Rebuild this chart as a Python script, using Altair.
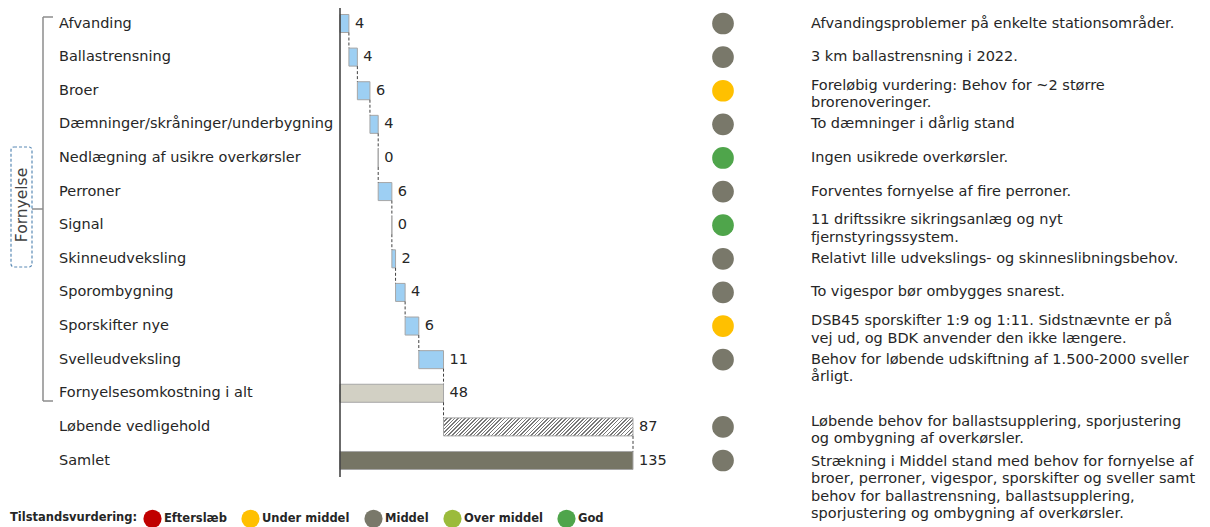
import altair as alt
import pandas as pd

FONT = "DejaVu Sans"
TXT = "#262626"

# ---------------- data ----------------
categories = [
    "Afvanding", "Ballastrensning", "Broer", "Dæmninger/skråninger/underbygning",
    "Nedlægning af usikre overkørsler", "Perroner", "Signal", "Skinneudveksling",
    "Sporombygning", "Sporskifter nye", "Svelleudveksling",
    "Fornyelsesomkostning i alt", "Løbende vedligehold", "Samlet",
]
renewal_values = [4.1, 3.9, 5.8, 3.8, 0.0, 6.3, 0.0, 1.7, 4.4, 6.3, 11.4]
maintenance_value = 87.3
status = ["Middel", "Middel", "Under middel", "Middel", "God", "Middel", "God",
          "Middel", "Middel", "Under middel", "Middel", None, "Middel", "Middel"]
notes = [
    "Afvandingsproblemer på enkelte stationsområder.",
    "3 km ballastrensning i 2022.",
    "Foreløbig vurdering: Behov for ~2 større\nbrorenoveringer.",
    "To dæmninger i dårlig stand",
    "Ingen usikrede overkørsler.",
    "Forventes fornyelse af fire perroner.",
    "11 driftssikre sikringsanlæg og nyt\nfjernstyringssystem.",
    "Relativt lille udvekslings- og skinneslibningsbehov.",
    "To vigespor bør ombygges snarest.",
    "DSB45 sporskifter 1:9 og 1:11. Sidstnævnte er på\nvej ud, og BDK anvender den ikke længere.",
    "Behov for løbende udskiftning af 1.500-2000 sveller\nårligt.",
    "",
    "Løbende behov for ballastsupplering, sporjustering\nog ombygning af overkørsler.",
    "Strækning i Middel stand med behov for fornyelse af\nbroer, perroner, vigespor, sporskifter og sveller samt\nbehov for ballastrensning, ballastsupplering,\nsporjustering og ombygning af overkørsler.",
]
status_levels = ["Efterslæb", "Under middel", "Middel", "Over middel", "God"]
status_colors = ["#C00000", "#FFC000", "#79786A", "#9BBB3B", "#4FA54B"]

# ---------------- table ----------------
rows = []
cum = 0.0
for i, v in enumerate(renewal_values):
    rows.append(dict(row=i, start=cum, end=cum + v, value=v, kind="comp"))
    cum += v
renew_total = cum
rows.append(dict(row=11, start=0.0, end=renew_total, value=renew_total, kind="total"))
rows.append(dict(row=12, start=renew_total, end=renew_total + maintenance_value,
                 value=maintenance_value, kind="run"))
rows.append(dict(row=13, start=0.0, end=renew_total + maintenance_value,
                 value=renew_total + maintenance_value, kind="sum"))
df = pd.DataFrame(rows)
df["cat"] = categories
df["status"] = status
df["note"] = notes
df["nlines"] = [n.count("\n") + 1 if n else 0 for n in notes]

H = 0.268  # half bar thickness in row units
conn = []
for i in range(len(df) - 1):
    conn.append(dict(x=df["end"][i], ya=i + H, yb=i + 1 - H))
conn_df = pd.DataFrame(conn)

xs = alt.Scale(domain=[0, 135], range=[332, 625])
ys = alt.Scale(domain=[0, 13], range=[15.5, 452.5])

base = alt.Chart(df)
one = alt.Chart(alt.Data(values=[{"k": 1}]))

# hatch pattern ("////") via a striped linear gradient
dark, light = "#787878", "#FFFFFF"
stops = []
n = 58
wfrac = 0.42
for j in range(n):
    a, b, c = j / n, (j + wfrac) / n, (j + 1) / n
    stops += [{"offset": a, "color": dark}, {"offset": b, "color": dark},
              {"offset": b, "color": light}, {"offset": c, "color": light}]
hatch = {"gradient": "linear", "x1": 0, "y1": 0, "x2": 1.09, "y2": 0.1036, "stops": stops}

bars = base.transform_filter("datum.kind != 'run'").transform_calculate(
    y0=f"datum.row - {H}", y1=f"datum.row + {H}"
).mark_rect(stroke="#A6A6A6", strokeWidth=1).encode(
    x=alt.X("start:Q", scale=xs, axis=None),
    x2="end:Q",
    y=alt.Y("y0:Q", scale=ys, axis=None),
    y2="y1:Q",
    fill=alt.Fill("kind:N", scale=alt.Scale(domain=["comp", "total", "sum"],
                                            range=["#9DCFF3", "#D2D0C4", "#767565"]),
                  legend=None),
)

run_bar = base.transform_filter("datum.kind == 'run'").transform_calculate(
    y0=f"datum.row - {H}", y1=f"datum.row + {H}"
).mark_rect(fill=hatch, stroke="#A6A6A6", strokeWidth=1).encode(
    x=alt.X("start:Q", scale=xs, axis=None),
    x2="end:Q",
    y=alt.Y("y0:Q", scale=ys, axis=None),
    y2="y1:Q",
)

connectors = alt.Chart(conn_df).mark_rule(
    color="#404040", strokeWidth=1, strokeDash=[3, 2]
).encode(
    x=alt.X("x:Q", scale=xs, axis=None),
    y=alt.Y("ya:Q", scale=ys, axis=None),
    y2="yb:Q",
)

zero_line = one.mark_rule(color="#3A3A3A", strokeWidth=1.5).encode(
    x=alt.value(332), y=alt.value(0), y2=alt.value(469)
)

cat_labels = base.mark_text(
    align="left", baseline="middle", font=FONT, fontSize=14.5, color=TXT
).encode(x=alt.value(51), y=alt.Y("row:Q", scale=ys, axis=None), text="cat:N")

val_labels = base.mark_text(
    align="left", baseline="middle", dx=6, font=FONT, fontSize=14.5, color=TXT
).encode(
    x=alt.X("end:Q", scale=xs, axis=None),
    y=alt.Y("row:Q", scale=ys, axis=None),
    text=alt.Text("value:Q", format=".0f"),
)

circles = base.transform_filter("datum.status != null").mark_circle(
    size=470, opacity=1
).encode(
    x=alt.value(715),
    y=alt.Y("row:Q", scale=ys, axis=None),
    color=alt.Color(
        "status:N",
        scale=alt.Scale(domain=status_levels, range=status_colors),
        legend=alt.Legend(
            orient="none", legendX=2, legendY=501, direction="horizontal",
            title="Tilstandsvurdering:", titleOrient="left",
            titleFont=FONT, titleFontSize=11.5, titleFontWeight="bold", titleColor=TXT,
            titlePadding=5, titleBaseline="middle",
            labelFont=FONT, labelFontSize=11.5, labelFontWeight="bold", labelColor=TXT,
            symbolType="circle", symbolSize=330, symbolStrokeWidth=0, symbolOpacity=1,
            labelOffset=2, columnPadding=14, padding=0,
        ),
    ),
)

def note_layer(cond, dy):
    return base.transform_filter(cond).mark_text(
        align="left", baseline="middle", font=FONT, fontSize=14.5, color=TXT,
        lineBreak="\n", lineHeight=17.5, dy=dy,
    ).encode(x=alt.value(803), y=alt.Y("row:Q", scale=ys, axis=None), text="note:N")

notes_single = note_layer("datum.nlines == 1", 0)
notes_double = note_layer("datum.nlines == 2 && datum.row != 10", -5)
notes_svelle = note_layer("datum.row == 10", 0)
notes_samlet = note_layer("datum.row == 13", 1)

# Fornyelse bracket and label
br = dict(color="#8C8C8C", strokeWidth=1.5)
bracket_v = one.mark_rule(**br).encode(x=alt.value(35), y=alt.value(9), y2=alt.value(393))
bracket_t = one.mark_rule(**br).encode(x=alt.value(35), x2=alt.value(45), y=alt.value(9))
bracket_b = one.mark_rule(**br).encode(x=alt.value(35), x2=alt.value(45), y=alt.value(393))
bracket_m = one.mark_rule(**br).encode(x=alt.value(24), x2=alt.value(35), y=alt.value(201))
box = one.mark_rect(
    fill="transparent", stroke="#5A8AB5", strokeDash=[3, 2], strokeWidth=1.2, cornerRadius=3
).encode(x=alt.value(3), x2=alt.value(24), y=alt.value(139), y2=alt.value(259))
group_label = one.mark_text(
    text="Fornyelse", angle=270, align="center", baseline="middle",
    font=FONT, fontSize=15.5, color="#404040"
).encode(x=alt.value(14), y=alt.value(197))

chart = alt.layer(
    bars, run_bar, connectors, zero_line, cat_labels, val_labels, circles,
    notes_single, notes_double, notes_svelle, notes_samlet,
    bracket_v, bracket_t, bracket_b, bracket_m, box, group_label,
).properties(
    width=1194, height=519, padding=0,
    autosize=alt.AutoSizeParams(type="none"),
).configure_view(stroke=None)

chart.save("out.html", embed_options={"renderer": "svg", "actions": False})
